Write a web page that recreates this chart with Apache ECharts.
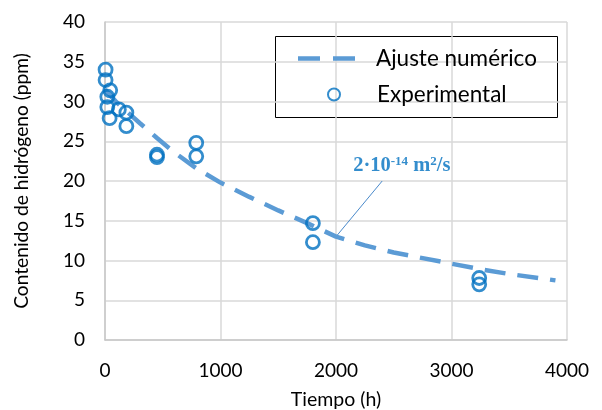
<!DOCTYPE html>
<html>
<head>
<meta charset="utf-8">
<script src="https://cdn.jsdelivr.net/npm/echarts@6/dist/echarts.min.js"></script>
<style>
html,body{margin:0;padding:0;background:#fff;}
#chart{width:602px;height:410px;}
</style>
</head>
<body>
<div id="chart"></div>
<script>
// ---- data ----
const fitTimes  = [0, 100, 200, 300, 450, 600, 800, 1000, 1250, 1500, 1750, 2000, 2250, 2500, 2750, 3000, 3250, 3500, 3750, 3900];
const fitValues = [31.5, 29.9, 28.6, 27.3, 25.4, 23.6, 21.5, 19.8, 18.0, 16.3, 14.7, 13.0, 11.9, 11.0, 10.3, 9.6, 8.9, 8.3, 7.8, 7.5];
const expTimes  = [5, 5, 45, 20, 20, 120, 185, 40, 185, 450, 450, 790, 790, 1800, 1800, 3240, 3240];
const expValues = [34.0, 32.7, 31.4, 30.6, 29.3, 29.0, 28.6, 27.9, 26.9, 23.3, 23.0, 24.8, 23.1, 14.7, 12.3, 7.8, 7.0];
const xTicks = [0, 1000, 2000, 3000, 4000];
const yTicks = [0, 5, 10, 15, 20, 25, 30, 35, 40];
const seriesNames = ['Ajuste numérico', 'Experimental'];
const leaderFrom = [2000, 13.0];
const leaderTo = [2400, 20.0];
const annotationAnchor = [2570, 21.9];

const FONT = 'Lato';
const chart = echarts.init(document.getElementById('chart'), null, {renderer: 'canvas'});
const option = {
  animation: false,
  backgroundColor: '#fff',
  grid: {left: 105, right: 35, top: 22, bottom: 70, containLabel: false, outerBoundsMode: 'none'},
  xAxis: {
    type: 'value', min: xTicks[0], max: xTicks[xTicks.length - 1], interval: 1000,
    name: 'Tiempo (h)', nameLocation: 'middle', nameGap: 50,
    nameTextStyle: {fontFamily: FONT, fontSize: 19.5, color: '#000'},
    axisLine: {show: true, lineStyle: {color: '#C8C8C8', width: 1.5}},
    axisTick: {show: false},
    axisLabel: {fontFamily: FONT, fontSize: 19, color: '#000', margin: 21, formatter: v => String(v)},
    splitLine: {show: true, lineStyle: {color: '#D9D9D9', width: 1.5}}
  },
  yAxis: {
    type: 'value', min: yTicks[0], max: yTicks[yTicks.length - 1], interval: 5,
    name: 'Contenido de hidrógeno (ppm)', nameLocation: 'middle', nameGap: 74,
    nameTextStyle: {fontFamily: FONT, fontSize: 19.2, color: '#000'},
    axisLine: {show: true, lineStyle: {color: '#C8C8C8', width: 1.5}},
    axisTick: {show: false},
    axisLabel: {fontFamily: FONT, fontSize: 19, color: '#000', margin: 20},
    splitLine: {show: true, lineStyle: {color: '#D9D9D9', width: 1.5}}
  },
  legend: [
    {
      data: [{name: seriesNames[0], icon: 'path://M0,0H22V4.5H0Z M35,0H57V4.5H35Z', itemStyle: {color: '#5B9BD5', borderWidth: 0}}],
      orient: 'vertical', left: 298, top: 47,
      itemWidth: 57, itemHeight: 4.5,
      textStyle: {fontFamily: FONT, fontSize: 22.5, color: '#000', padding: [0, 0, 0, 16]},
      borderWidth: 0, padding: 0
    },
    {
      data: [seriesNames[1]], orient: 'vertical', left: 327, top: 83,
      itemWidth: 12, itemHeight: 12,
      textStyle: {fontFamily: FONT, fontSize: 22.5, color: '#000', padding: [0, 0, 0, 32]},
      borderWidth: 0, padding: 0
    }
  ],
  graphic: [{
    type: 'rect', left: 275, top: 36, z: 0,
    shape: {width: 282, height: 81},
    style: {fill: '#fff', stroke: '#000', lineWidth: 1}
  }],
  series: [
    {
      name: seriesNames[0], type: 'line', symbol: 'none', z: 3,
      data: fitTimes.map((t, i) => [t, fitValues[i]]),
      lineStyle: {color: '#5B9BD5', width: 4.5, type: [21, 12], cap: 'butt'},
      itemStyle: {color: '#5B9BD5'}
    },
    {
      name: seriesNames[1], type: 'scatter', symbol: 'circle', symbolSize: 13, z: 4,
      data: expTimes.map((t, i) => [t, expValues[i]]),
      itemStyle: {color: 'rgba(0,0,0,0)', borderColor: '#0070C0', borderWidth: 2.8}
    },
    {
      name: 'leader', type: 'line', symbol: 'none', z: 2, silent: true,
      data: [leaderFrom, leaderTo],
      lineStyle: {color: '#4A8ACB', width: 1}
    },
    {
      name: 'annotation', type: 'scatter', symbolSize: 0, z: 5, silent: true,
      data: [annotationAnchor],
      label: {
        show: true, position: 'inside', formatter: '{a|2·10}{s|-14}{a| m}{s|2}{a|/s}',
        rich: {
          a: {fontFamily: 'Liberation Serif', fontWeight: 'bold', fontSize: 20.5, color: '#0070C0', verticalAlign: 'bottom'},
          s: {fontFamily: 'Liberation Serif', fontWeight: 'bold', fontSize: 13, color: '#0070C0', verticalAlign: 'top', padding: [0, 0, 8, 0]}
        }
      }
    }
  ]
};
chart.setOption(option);
</script>
</body>
</html>
